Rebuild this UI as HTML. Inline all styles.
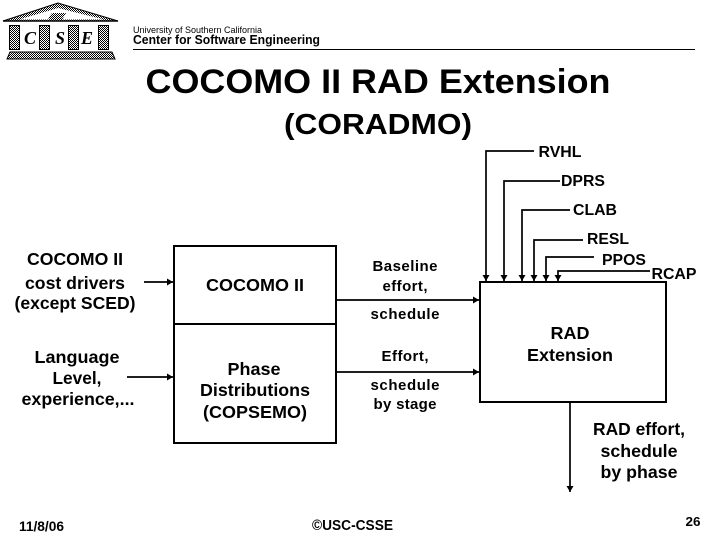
<!DOCTYPE html>
<html><head><meta charset="utf-8"><style>
html,body{margin:0;padding:0;background:#fff}
svg{display:block}
text{font-family:"Liberation Sans",Arial,sans-serif;fill:#000;text-anchor:middle}
.b{font-weight:bold}
.s{stroke:#000;fill:none}
.l{font-family:"Liberation Serif",serif;font-style:italic;font-weight:bold}
</style></head><body>
<svg width="720" height="540" viewBox="0 0 720 540" xmlns="http://www.w3.org/2000/svg">
<defs>
<pattern id="d" width="2" height="2" patternUnits="userSpaceOnUse"><rect width="2" height="2" fill="#fff"/><rect width="1" height="1" fill="#000"/><rect x="1" y="1" width="1" height="1" fill="#000"/></pattern>
<marker id="a" markerWidth="8" markerHeight="8" refX="6" refY="4" orient="auto" markerUnits="userSpaceOnUse"><path d="M0 0.5L6 4L0 7.5Z" fill="#000"/></marker>
</defs>

<!-- logo -->
<path d="M3 21L58 3L118 21Z" fill="url(#d)" stroke="#000" stroke-width="1"/>
<path d="M19 19.5L58 8L104 19.5Z" fill="#fff"/>
<path d="M48 18L52 13H66L62 20H50Z" fill="url(#d)"/>
<path d="M3 21H118" class="s" stroke-width="1.5"/>
<rect x="9.5" y="25.5" width="10" height="24" fill="url(#d)" stroke="#000"/>
<rect x="39.5" y="25.5" width="10" height="24" fill="url(#d)" stroke="#000"/>
<rect x="68.5" y="25.5" width="10" height="24" fill="url(#d)" stroke="#000"/>
<rect x="98.5" y="25.5" width="10" height="24" fill="url(#d)" stroke="#000"/>
<path d="M10 52H112L115 59H7Z" fill="url(#d)" stroke="#000"/>
<text x="30" y="44" font-size="18" class="l">C</text>
<text x="60" y="44" font-size="18" class="l">S</text>
<text x="87" y="44" font-size="18" class="l">E</text>

<!-- header -->
<text x="133" y="33" font-size="9.5" style="text-anchor:start" textLength="129" lengthAdjust="spacingAndGlyphs">University of Southern California</text>
<text x="133" y="44" font-size="13" class="b" style="text-anchor:start" textLength="187" lengthAdjust="spacingAndGlyphs">Center for Software  Engineering</text>
<path d="M133 49.5H695" class="s" stroke-width="1"/>

<!-- title -->
<text x="378" y="93" font-size="34" class="b" textLength="465" lengthAdjust="spacingAndGlyphs">COCOMO II RAD Extension</text>
<text x="378" y="134" font-size="29" class="b" textLength="188" lengthAdjust="spacingAndGlyphs">(CORADMO)</text>

<!-- boxes -->
<rect x="174" y="246" width="162" height="197" class="s" stroke-width="2"/>
<path d="M174 324H336" class="s" stroke-width="2"/>
<rect x="480" y="282" width="186" height="120" class="s" stroke-width="2"/>

<!-- connectors -->
<g class="s" stroke-width="1.7">
<path d="M534 151H486V281" marker-end="url(#a)"/>
<path d="M560 181H504V281" marker-end="url(#a)"/>
<path d="M570 210H522V281" marker-end="url(#a)"/>
<path d="M583 240H534V281" marker-end="url(#a)"/>
<path d="M594 257H546V281" marker-end="url(#a)"/>
<path d="M650 271H558V281" marker-end="url(#a)"/>
<path d="M144 282H173" marker-end="url(#a)"/>
<path d="M127 377H173" marker-end="url(#a)"/>
<path d="M336 300H479" marker-end="url(#a)"/>
<path d="M336 372H479" marker-end="url(#a)"/>
<path d="M570 402V492" marker-end="url(#a)"/>
</g>

<!-- top labels -->
<g font-size="16" class="b">
<text x="560" y="157" textLength="43" lengthAdjust="spacingAndGlyphs">RVHL</text>
<text x="583" y="186" textLength="44" lengthAdjust="spacingAndGlyphs">DPRS</text>
<text x="595" y="215" textLength="44" lengthAdjust="spacingAndGlyphs">CLAB</text>
<text x="608" y="244" textLength="42" lengthAdjust="spacingAndGlyphs">RESL</text>
<text x="624" y="265" textLength="44" lengthAdjust="spacingAndGlyphs">PPOS</text>
<text x="674" y="279" textLength="45" lengthAdjust="spacingAndGlyphs">RCAP</text>
</g>

<!-- left labels -->
<g font-size="17.5" class="b">
<text x="75" y="265" textLength="96" lengthAdjust="spacingAndGlyphs">COCOMO II</text>
<text x="75" y="289" textLength="100" lengthAdjust="spacingAndGlyphs">cost drivers</text>
<text x="75" y="309" textLength="121" lengthAdjust="spacingAndGlyphs">(except SCED)</text>
<text x="77" y="363" textLength="85" lengthAdjust="spacingAndGlyphs">Language</text>
<text x="77" y="384" textLength="49" lengthAdjust="spacingAndGlyphs">Level,</text>
<text x="78" y="405" textLength="113" lengthAdjust="spacingAndGlyphs">experience,...</text>
</g>

<!-- box labels -->
<g font-size="17.5" class="b">
<text x="255" y="291" textLength="98" lengthAdjust="spacingAndGlyphs">COCOMO II</text>
<text x="254" y="375" textLength="53" lengthAdjust="spacingAndGlyphs">Phase</text>
<text x="255" y="396" textLength="110" lengthAdjust="spacingAndGlyphs">Distributions</text>
<text x="255" y="418" textLength="104" lengthAdjust="spacingAndGlyphs">(COPSEMO)</text>
<text x="570" y="339" textLength="39" lengthAdjust="spacingAndGlyphs">RAD</text>
<text x="570" y="361" textLength="86" lengthAdjust="spacingAndGlyphs">Extension</text>
<text x="639" y="435" textLength="92" lengthAdjust="spacingAndGlyphs">RAD effort,</text>
<text x="639" y="457" textLength="77" lengthAdjust="spacingAndGlyphs">schedule</text>
<text x="639" y="478" textLength="77" lengthAdjust="spacingAndGlyphs">by phase</text>
</g>

<!-- middle labels -->
<g font-size="15" class="b">
<text x="405" y="271" textLength="65" lengthAdjust="spacing">Baseline</text>
<text x="405" y="291" textLength="45" lengthAdjust="spacing">effort,</text>
<text x="405" y="319" textLength="69" lengthAdjust="spacing">schedule</text>
<text x="405" y="361" textLength="47" lengthAdjust="spacing">Effort,</text>
<text x="405" y="390" textLength="69" lengthAdjust="spacing">schedule</text>
<text x="405" y="409" textLength="63" lengthAdjust="spacing">by stage</text>
</g>

<!-- footer -->
<text x="41.5" y="531" font-size="14" class="b" textLength="45" lengthAdjust="spacingAndGlyphs">11/8/06</text>
<text x="352.5" y="530" font-size="14.5" class="b" textLength="81" lengthAdjust="spacingAndGlyphs">©USC-CSSE</text>
<text x="693" y="526" font-size="13" class="b" textLength="15" lengthAdjust="spacingAndGlyphs">26</text>
</svg>
</body></html>
